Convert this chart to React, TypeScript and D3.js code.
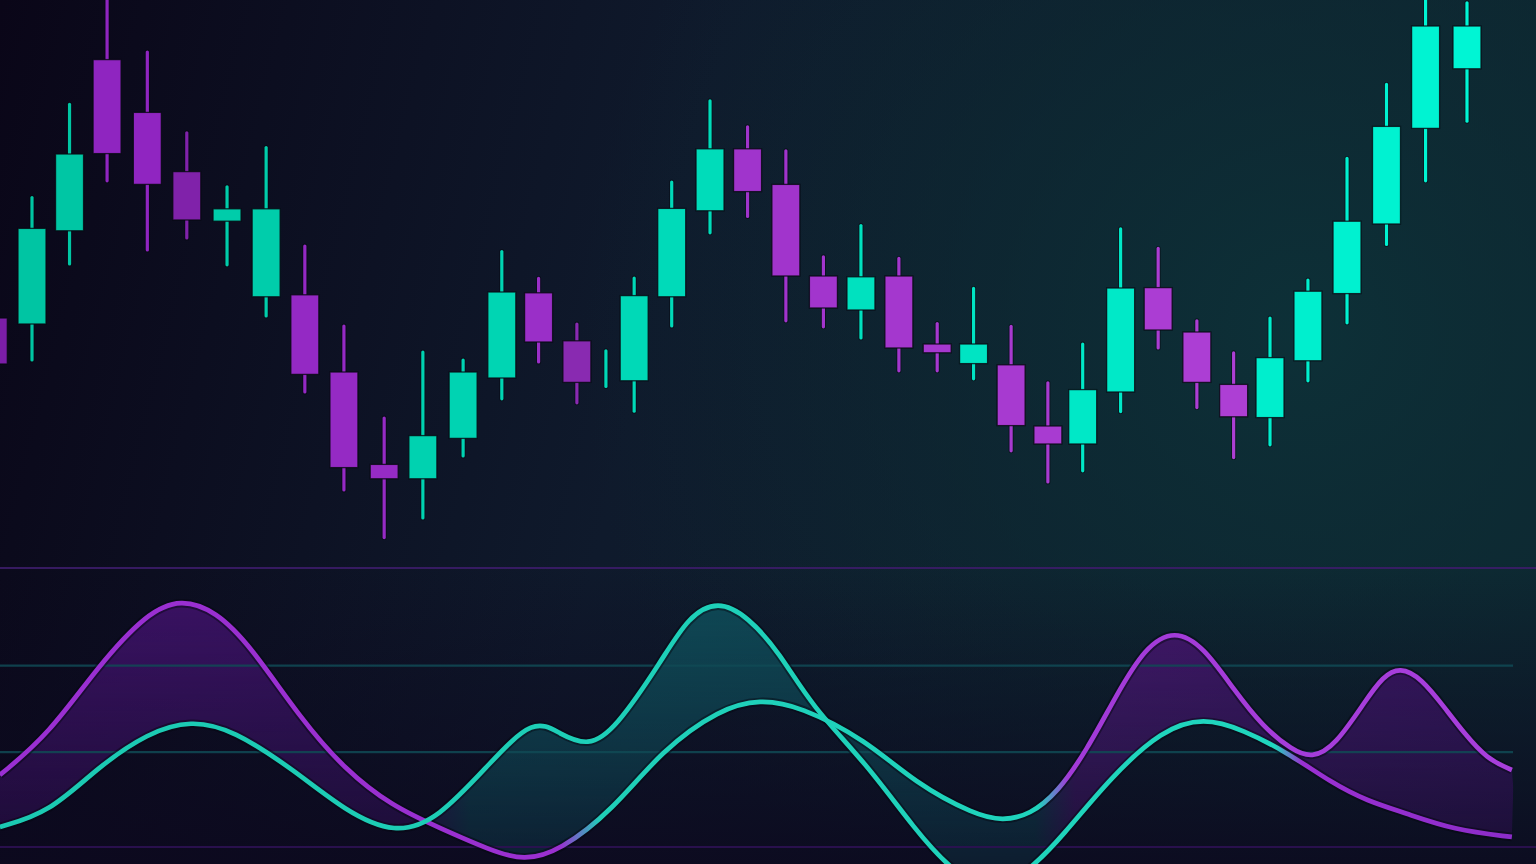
import React from "react";
import * as d3 from "d3";

const W = 1536;
const H = 864;

// ---- Candlestick data (time index, OHLC) ----
const candleTimes = [-1.0, 0, 0.97, 1.94, 2.98, 4.0, 5.04, 6.05, 7.05, 8.06, 9.1, 10.1, 11.14, 12.14, 13.09, 14.08, 14.83, 15.56, 16.53, 17.52, 18.49, 19.48, 20.45, 21.42, 22.4, 23.39, 24.33, 25.3, 26.25, 27.15, 28.13, 29.1, 30.1, 31.05, 31.99, 32.97, 33.98, 35.0, 36.01, 37.08];
const candleOpen = [70.5, 69, 92.3, 135.1, 121.9, 107.1, 94.7, 75.8, 76.3, 57, 33.9, 30.3, 40.4, 55.5, 76.8, 64.8, 58, 54.8, 75.8, 97.3, 112.8, 103.9, 81, 72.5, 81, 64, 59.1, 58.8, 43.5, 39, 52, 78.1, 67, 53.9, 45.6, 59.8, 76.6, 94, 117.9, 132.8];
const candleHigh = [75, 100.6, 123.9, 151.3, 137, 116.8, 103.3, 113.1, 88.5, 68.5, 45.5, 62, 60, 87.1, 80.4, 69, 62.3, 80.5, 104.5, 124.8, 118.3, 112.3, 85.8, 93.6, 85.4, 69.1, 77.9, 68.4, 54.3, 64, 92.8, 87.9, 69.8, 61.8, 70.5, 80, 110.4, 128.9, 151.3, 149.3];
const candleLow = [55, 60, 84, 104.8, 87.5, 90.5, 83.8, 71, 52, 27.5, 15.6, 20.5, 36, 50.3, 59.5, 49.3, 53.4, 47.2, 68.5, 91.8, 95.9, 69.8, 68.3, 65.5, 57.3, 57.3, 55.3, 37.3, 29.5, 32.3, 47.1, 63, 48.1, 35.6, 38.8, 54.8, 69.3, 88.9, 104.8, 119.7];
const candleClose = [59, 92.9, 111.5, 111.6, 103.9, 95, 97.8, 97.8, 56.4, 33.1, 30.3, 41.1, 57, 77, 64.5, 54.4, 58, 76.1, 97.9, 112.8, 102.1, 81, 73, 80.8, 63, 61.8, 64, 43.6, 39, 52.6, 78, 67.5, 54.4, 45.8, 60.6, 77.2, 94.7, 118.4, 143.5, 143.5];

// ---- Oscillator data ----
const oscATimes = [-0.83, 0.44, 1.71, 2.97, 3.85, 4.75, 5.63, 6.93, 8.1, 9.3, 10.5, 11.83, 12.71, 13.64, 15.01, 16.28, 17.78, 18.81, 19.84, 21.55, 22.82, 24.37, 25.09, 25.79, 26.5, 27.26, 28.0, 28.76, 29.53, 30.28, 31.06, 31.81, 32.56, 33.07, 33.67, 34.47, 34.9, 35.35, 35.9, 36.5, 37.0, 37.6, 38.24];
const oscAValues = [25.8, 40.5, 64.9, 83.9, 89.0, 84.5, 72.4, 46.2, 27.5, 14.7, 7.0, -1.1, -5.0, -1.4, 13.3, 34.8, 49.5, 53.0, 50.5, 38.4, 22.9, 11.5, 9.4, 11.6, 19.5, 34.8, 54.0, 71.7, 78.0, 71.7, 56.3, 43.0, 34.8, 31.8, 36.2, 52.7, 61.0, 64.6, 60.5, 50.0, 40.9, 31.5, 27.6];
const oscBTimes = [-0.83, 0.44, 1.71, 3.0, 4.11, 5.2, 6.77, 8.1, 9.38, 10.5, 11.83, 12.97, 13.64, 14.37, 15.06, 16.28, 16.95, 17.73, 18.5, 19.3, 20.16, 21.55, 22.82, 23.8, 24.83, 25.8, 26.61, 27.88, 29.2, 30.28, 31.3, 32.46, 33.59, 34.5, 35.48, 36.74, 38.24];
const oscBValues = [7.2, 12.2, 28.7, 41.0, 45.5, 42.0, 27.6, 12.8, 4.5, 10.0, 30.1, 46.5, 40.5, 36.0, 42.0, 67.0, 82.5, 88.5, 82.5, 70.0, 50.2, 30.1, 6.1, -9.0, -17.0, -8.0, 3.6, 25.1, 42.0, 46.5, 42.0, 33.7, 22.9, 16.5, 12.2, 6.1, 3.6];
const guideLevels = [100, 65, 34, 0];

// ---- Styles ----
const TEAL_L = "#00c4a2";
const TEAL_R = "#00f7d6";
const PURP_L = "#8c22be";
const PURP_R = "#b546da";
const DIM = new Set([0, 5, 15]);

export default function App() {
  const x = d3.scaleLinear().domain([0, 38]).range([32, 32 + 38 * 38.7]);
  const py = d3.scaleLinear().domain([0, 140]).range([600, 40]);
  const oy = d3.scaleLinear().domain([0, 100]).range([847, 568]);
  const tealAt = d3.interpolateRgb(TEAL_L, TEAL_R);
  const purpAt = d3.interpolateRgb(PURP_L, PURP_R);
  const bodyW = 28;

  const line = d3
    .line<[number, number]>()
    .x((d) => x(d[0]))
    .y((d) => oy(d[1]))
    .curve(d3.curveBasis);

  const ptsA: [number, number][] = oscATimes.map((t, i) => [t, oscAValues[i]]);
  const ptsB: [number, number][] = oscBTimes.map((t, i) => [t, oscBValues[i]]);
  const pathA = line(ptsA) || "";
  const pathB = line(ptsB) || "";

  const f = (px: number) => px / W;

  return (
    <div style={{ position: "fixed", left: 0, top: 0, width: W, height: H, overflow: "hidden" }}>
      <svg width={W} height={H} style={{ display: "block" }}>
        <defs>
          <linearGradient id="bgBase" gradientUnits="userSpaceOnUse" x1={0} y1={0} x2={1536} y2={380}>
            <stop offset="0" stopColor="#0a0618" />
            <stop offset="0.45" stopColor="#0f1a2c" />
            <stop offset="1" stopColor="#0d2630" />
          </linearGradient>
          <radialGradient id="glow" gradientUnits="userSpaceOnUse" cx={1300} cy={330} r={720}>
            <stop offset="0" stopColor="#0d3138" stopOpacity={0.95} />
            <stop offset="0.55" stopColor="#0d2c34" stopOpacity={0.45} />
            <stop offset="1" stopColor="#0d2a33" stopOpacity={0} />
          </radialGradient>
          <linearGradient id="bottomShade" gradientUnits="userSpaceOnUse" x1={0} y1={560} x2={0} y2={864}>
            <stop offset="0" stopColor="#0c081e" stopOpacity={0} />
            <stop offset="1" stopColor="#0c081e" stopOpacity={0.85} />
          </linearGradient>
          <linearGradient id="gA" gradientUnits="userSpaceOnUse" x1={0} y1={0} x2={W} y2={0}>
            <stop offset="0" stopColor="#9a2fd2" />
            <stop offset={f(560)} stopColor="#9a30d0" />
            <stop offset={f(600)} stopColor="#1fcfb8" />
            <stop offset={f(1038)} stopColor="#1fd4bd" />
            <stop offset={f(1068)} stopColor="#a23ad8" />
            <stop offset="1" stopColor="#a83fdc" />
          </linearGradient>
          <linearGradient id="gB" gradientUnits="userSpaceOnUse" x1={0} y1={0} x2={W} y2={0}>
            <stop offset="0" stopColor="#1bc9b2" />
            <stop offset={f(1275)} stopColor="#20d6be" />
            <stop offset={f(1302)} stopColor="#9a30d2" />
            <stop offset="1" stopColor="#8a2cc8" />
          </linearGradient>
          <linearGradient id="gF" gradientUnits="userSpaceOnUse" x1={0} y1={0} x2={W} y2={0}>
            <stop offset="0" stopColor="#3e1268" />
            <stop offset={f(415)} stopColor="#3a1264" />
            <stop offset={f(470)} stopColor="#0f4e5a" />
            <stop offset={f(1035)} stopColor="#0f4654" />
            <stop offset={f(1075)} stopColor="#47166f" />
            <stop offset="1" stopColor="#3a1062" />
          </linearGradient>
          <linearGradient id="fillFade" gradientUnits="userSpaceOnUse" x1={0} y1={595} x2={0} y2={870}>
            <stop offset="0" stopColor="#fff" stopOpacity={1} />
            <stop offset="1" stopColor="#fff" stopOpacity={0.3} />
          </linearGradient>
          <mask id="fillMask" maskUnits="userSpaceOnUse" x={0} y={0} width={W} height={H}>
            <rect x={0} y={0} width={W} height={H} fill="url(#fillFade)" />
          </mask>
          <clipPath id="belowA">
            <path d={pathA + `L${W},${H + 200}L0,${H + 200}Z`} />
          </clipPath>
          <clipPath id="aboveA">
            <path d={pathA + `L${W},-10L0,-10Z`} />
          </clipPath>
        </defs>

        {/* background */}
        <rect x={0} y={0} width={W} height={H} fill="url(#bgBase)" />
        <rect x={0} y={0} width={W} height={H} fill="url(#glow)" />
        <rect x={0} y={0} width={W} height={H} fill="url(#bottomShade)" />

        {/* candles */}
        <g>
          {candleTimes.map((t, i) => {
            const cx = x(t);
            const o = candleOpen[i];
            const c = candleClose[i];
            const up = c >= o;
            let col = up ? tealAt(cx / W) : purpAt(cx / W);
            if (DIM.has(i)) col = d3.color(col)!.darker(0.35).formatHex();
            const top = py(Math.max(o, c));
            const bot = py(Math.min(o, c));
            return (
              <g key={i}>
                <line x1={cx} x2={cx} y1={py(candleHigh[i])} y2={py(candleLow[i])} stroke="#05070f" strokeOpacity={0.55} strokeWidth={5} strokeLinecap="round" />
                <line x1={cx} x2={cx} y1={py(candleHigh[i])} y2={py(candleLow[i])} stroke={col} strokeWidth={3.2} strokeLinecap="round" />
                {bot - top > 0.5 && (
                  <rect x={cx - bodyW / 2} y={top} width={bodyW} height={bot - top} fill={col} stroke="#060912" strokeOpacity={0.8} strokeWidth={1.3} />
                )}
              </g>
            );
          })}
        </g>

        {/* oscillator fill between the two curves */}
        <g mask="url(#fillMask)">
          <g clipPath="url(#belowA)">
            <path d={pathB + `L${W},-10L0,-10Z`} fill="url(#gF)" fillOpacity={0.95} />
          </g>
          <g clipPath="url(#aboveA)">
            <path d={pathB + `L${W},${H + 200}L0,${H + 200}Z`} fill="url(#gF)" fillOpacity={0.95} />
          </g>
        </g>

        {/* guide lines */}
        {guideLevels.map((lv) => {
          const purple = lv === 100 || lv === 0;
          return (
            <line
              key={lv}
              x1={0}
              x2={purple ? W : 1513}
              y1={oy(lv)}
              y2={oy(lv)}
              stroke={purple ? (lv === 100 ? "#3b1c68" : "#2c1152") : "#114a55"}
              strokeOpacity={purple ? 0.9 : 0.85}
              strokeWidth={2.2}
            />
          );
        })}

        {/* oscillator lines */}
        <path d={pathA} fill="none" stroke="#05060f" strokeOpacity={0.45} strokeWidth={8.5} />
        <path d={pathB} fill="none" stroke="#05060f" strokeOpacity={0.45} strokeWidth={8.5} />
        <path d={pathA} fill="none" stroke="url(#gA)" strokeWidth={4.7} strokeLinejoin="round" />
        <path d={pathB} fill="none" stroke="url(#gB)" strokeWidth={4.7} strokeLinejoin="round" />
      </svg>
    </div>
  );
}
